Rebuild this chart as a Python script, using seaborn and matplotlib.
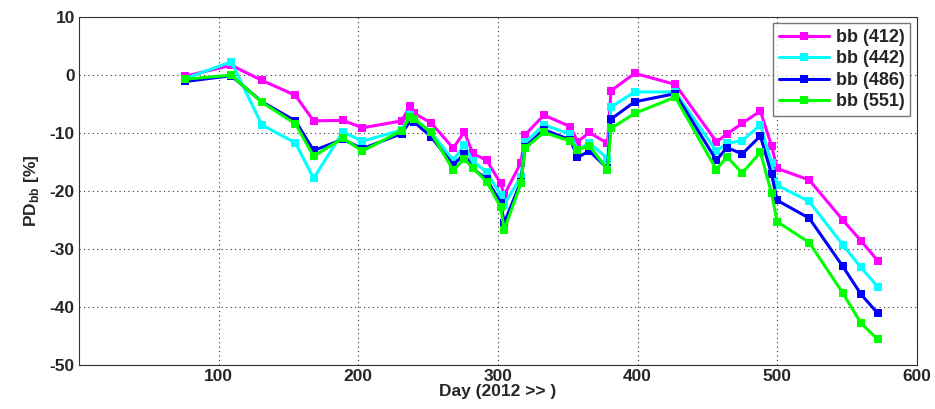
import pandas as pd
import seaborn as sns
import matplotlib
matplotlib.use("Agg")
import matplotlib.pyplot as plt

# Day of year (2012 and beyond)
days = [76, 109, 131, 155, 168, 189, 203, 231, 237, 240, 252, 268, 276, 282,
        292, 302, 304.5, 316.5, 319.5, 333, 352, 357, 365.5, 378.5, 381, 398,
        427, 456.5, 464, 475, 488, 496, 500, 523, 547, 560, 572]

# Percent difference of bb per wavelength
bb412 = [-0.2, 1.7, -0.9, -3.5, -7.9, -7.8, -9.1, -7.9, -5.4, -6.6, -8.2, -12.6,
         -9.8, -13.5, -14.7, -18.7, -20.7, -15.1, -10.3, -6.9, -8.9, -11.5, -9.9,
         -11.8, -2.7, 0.3, -1.6, -11.5, -10.2, -8.3, -6.2, -12.2, -16.1, -18.1,
         -25.0, -28.6, -32.0]
bb442 = [-0.6, 2.3, -8.6, -11.7, -17.8, -9.8, -11.4, -9.5, -6.9, -7.6, -9.8, -14.7,
         -12.0, -14.9, -16.7, -20.7, -22.4, -17.5, -11.6, -8.6, -10.2, -12.9, -11.7,
         -14.4, -5.5, -2.9, -2.9, -13.1, -11.8, -11.3, -8.6, -15.1, -19.0, -21.8,
         -29.3, -33.2, -36.5]
bb486 = [-1.1, -0.1, -4.6, -7.9, -13.0, -11.1, -12.7, -10.1, -8.0, -8.1, -10.6, -15.5,
         -13.6, -16.1, -18.0, -22.0, -25.5, -18.4, -12.4, -9.4, -11.2, -14.2, -13.1,
         -16.1, -7.6, -4.6, -3.2, -14.7, -12.5, -13.6, -10.5, -17.1, -21.6, -24.7,
         -33.0, -37.8, -41.1]
bb551 = [-0.7, 0.0, -4.7, -8.4, -14.0, -10.9, -13.1, -9.6, -7.2, -7.5, -9.9, -16.4,
         -14.5, -16.0, -18.4, -22.8, -26.7, -18.7, -12.6, -9.9, -11.4, -12.9, -12.2,
         -16.3, -9.2, -6.6, -3.8, -16.3, -14.1, -16.9, -13.3, -20.4, -25.3, -28.9,
         -37.6, -42.8, -45.6]

labels = ["bb (412)", "bb (442)", "bb (486)", "bb (551)"]
colors = ["#ff00ff", "#00ffff", "#0000ff", "#00ff00"]

frames = []
for lab, vals in zip(labels, [bb412, bb442, bb486, bb551]):
    frames.append(pd.DataFrame({"day": days, "pd": vals, "band": lab}))
df = pd.concat(frames, ignore_index=True)

sns.set_style("white")
plt.rcParams["font.family"] = ["Liberation Sans", "DejaVu Sans"]
plt.rcParams["font.weight"] = "bold"
plt.rcParams["axes.unicode_minus"] = False
plt.rcParams["mathtext.fontset"] = "custom"
plt.rcParams["mathtext.bf"] = "Liberation Sans:bold"

fig = plt.figure(figsize=(9.35, 4.09), dpi=100)
ax = fig.add_axes([0.0845, 0.108, 0.896, 0.85])

sns.lineplot(data=df, x="day", y="pd", hue="band", palette=colors,
             marker="s", markersize=5.5, markeredgewidth=0, linewidth=2.2,
             sort=False, ax=ax)

ax.set_xlim(0, 600)
ax.set_ylim(-50, 10)
ax.set_xticks([100, 200, 300, 400, 500, 600])
ax.set_yticks(range(-50, 11, 10))
ax.grid(True, linestyle=(0, (1, 3)), color="#333333", linewidth=0.8)
ax.tick_params(direction="in", labelsize=12.5, length=4, width=0.8, pad=3)
for lbl in ax.get_xticklabels() + ax.get_yticklabels():
    lbl.set_fontweight("bold")
for sp in ax.spines.values():
    sp.set_visible(True)
    sp.set_color("#333333")
    sp.set_linewidth(0.8)

ax.set_xlabel("Day (2012 >> )", fontsize=12.5, fontweight="bold", labelpad=0)
ax.set_ylabel(r"PD$_{\mathbf{bb}}$ [%]", fontsize=12.5, fontweight="bold", labelpad=6)

leg = ax.legend(loc="upper right", fontsize=13, frameon=True, fancybox=False,
                borderaxespad=0.35, handlelength=2.8, handletextpad=0.4,
                labelspacing=0.25, borderpad=0.3, edgecolor="#555555")
leg.get_frame().set_linewidth(1.0)
for t in leg.get_texts():
    t.set_fontweight("bold")

fig.savefig("out.png", dpi=100)
